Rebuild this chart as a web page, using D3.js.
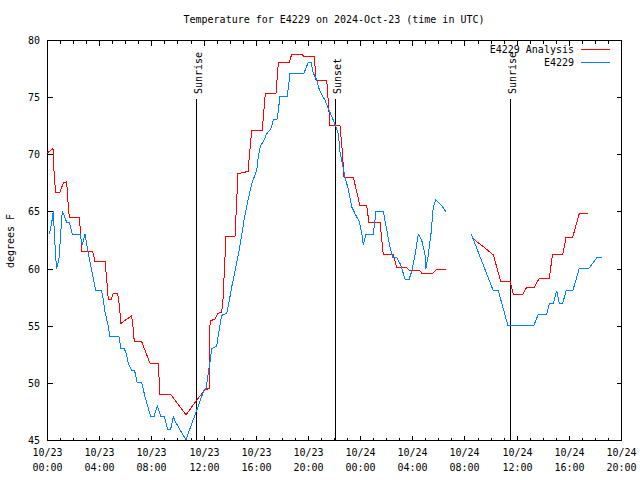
<!DOCTYPE html>
<html><head><meta charset="utf-8">
<script src="https://cdn.jsdelivr.net/npm/d3@7"></script>
<style>
body{margin:0;background:#fff;}
svg{display:block;}
text{font-family:"DejaVu Sans Mono","Liberation Mono",monospace;font-size:10px;fill:#000;}
</style></head><body>
<script>
// ---- data (hours since 2024-10-23 00:00 UTC, degrees F) ----
const analysisHours = [0.00,0.46,0.54,0.65,1.00,1.25,1.51,1.59,1.71,2.48,2.58,2.68,3.50,3.68,4.45,4.58,4.70,4.91,5.08,5.42,5.52,5.67,6.03,6.49,6.62,6.69,7.26,7.90,8.53,8.66,9.48,10.66,11.48,12.11,12.42,12.50,12.88,13.13,13.39,13.49,13.72,14.41,14.64,15.41,15.69,16.50,16.73,17.55,17.73,18.55,18.76,19.52,19.65,20.49,20.62,21.44,21.69,22.46,22.64,22.77,23.48,23.99,24.51,24.68,25.53,25.78,26.55,26.81,27.52,27.83,28.59,28.72,29.57,29.82,30.56,31.5,32.56,33.58,34.21,34.78,35.49,35.74,36.47,36.77,37.33,37.74,38.51,38.74,39.53,39.79,40.30,40.81,41.50];
const analysisTemps = [70.1,70.5,68.5,66.7,66.7,67.5,67.6,66.1,64.5,64.5,63.0,61.5,61.5,60.6,60.6,59.0,57.3,57.3,57.8,57.8,57.0,55.2,55.5,55.85,54.6,53.6,53.6,51.7,51.7,49.0,49.0,47.2,48.5,49.4,49.5,55.4,55.6,56.1,56.2,57.3,62.8,62.8,68.3,68.5,72.1,72.1,75.3,75.3,78.0,78.0,78.75,78.75,78.6,78.6,76.5,76.5,72.5,72.5,70.2,68.0,68.0,65.5,65.5,64.0,64.0,61.2,61.2,60.1,60.1,59.8,59.8,59.6,59.6,59.9,59.9,null,62.7,61.8,61.2,58.9,58.9,57.75,57.75,58.35,58.35,59.15,59.15,61.2,61.2,62.75,62.75,64.85,64.85];

const stationHours = [0.18,0.36,0.48,0.67,0.74,0.92,1.17,1.30,1.51,1.71,1.94,2.53,2.71,2.91,3.22,3.55,3.73,4.19,4.32,4.45,4.65,4.83,5.52,5.67,5.93,6.11,6.23,6.49,6.71,6.92,7.26,7.51,7.95,8.20,8.46,8.72,8.99,9.25,9.48,9.68,9.94,10.66,10.96,11.48,12.04,12.19,12.29,12.50,12.63,13.01,13.13,13.39,13.78,13.98,14.18,14.49,14.79,15.10,15.41,15.71,16.08,16.20,16.38,16.58,16.84,17.15,17.35,17.65,17.86,18.42,18.63,19.70,20.03,20.24,20.41,20.68,20.80,21.06,21.31,21.56,21.83,22.08,22.33,22.46,22.59,22.84,23.10,23.36,23.61,23.94,24.13,24.25,24.45,25.01,25.22,25.78,26.04,26.29,26.50,26.81,27.12,27.45,27.75,27.96,28.21,28.46,28.72,28.98,29.05,29.23,29.44,29.61,29.80,30.00,30.26,30.56,31.5,32.53,34.21,34.60,35.32,37.33,37.66,38.31,38.51,38.81,39.07,39.27,39.53,39.79,40.30,40.81,41.55,42.19,42.53];
const stationTemps = [63.0,64.0,65.0,60.9,60.0,60.9,65.0,64.7,64.05,64.05,63.0,63.0,62.05,63.0,61.0,59.15,58.05,58.05,57.25,56.2,55.2,54.05,54.05,53.0,53.0,52.4,51.7,51.1,51.1,50.0,50.0,48.8,47.05,47.05,47.95,47.05,47.05,45.95,45.95,47.0,46.4,45.0,46.0,47.6,49.4,49.5,50.25,51.9,53.0,53.2,54.2,55.9,56.1,57.25,58.5,60.2,62.0,64.2,66.0,67.5,68.6,69.8,70.8,71.1,71.8,72.2,73.0,73.1,75.05,75.05,77.1,77.1,78.05,78.05,77.1,76.5,75.9,75.2,74.75,74.0,73.3,72.6,71.8,70.2,69.5,68.05,66.9,65.4,64.8,64.1,63.1,62.05,63.0,63.0,65.0,65.0,63.4,61.9,61.0,61.0,60.3,59.05,59.05,59.75,61.2,63.0,62.5,61.2,60.0,61.2,63.1,65.4,66.05,65.8,65.5,65.0,null,63.0,58.05,58.05,55.05,55.05,56.0,56.0,56.95,56.95,58.05,56.95,56.95,58.05,58.05,60.05,60.05,61.0,61.0];

const sunEventHours = [11.44, 22.09, 35.52];
const sunEventNames = ["Sunrise", "Sunset", "Sunrise"];

const xTickHours = [0,4,8,12,16,20,24,28,32,36,40,44];
const xTickDates = ["10/23","10/23","10/23","10/23","10/23","10/23","10/24","10/24","10/24","10/24","10/24","10/24"];
const xTickTimes = ["00:00","04:00","08:00","12:00","16:00","20:00","00:00","04:00","08:00","12:00","16:00","20:00"];
const yTicks = [45,50,55,60,65,70,75,80];

const seriesNames = ["E4229 Analysis", "E4229"];
const seriesColors = ["#ff0000", "#0080ff"];
const titleText = "Temperature for E4229 on 2024-Oct-23 (time in UTC)";
const yLabel = "degrees F";

// ---- drawing ----
const W = 640, H = 480;
const L = 47, R = 621, T = 40, B = 440;
const svg = d3.select("body").append("svg").attr("width", W).attr("height", H);

const x = d3.scaleLinear().domain([0, 44]).range([L, R]);
const y = d3.scaleLinear().domain([45, 80]).range([B, T]);

const g = svg.append("g").attr("shape-rendering", "crispEdges");

// ticks: minor hourly, major every 4h, on bottom and top, inward
const hours = d3.range(0, 45);
hours.forEach(h => {
  const len = (h % 4 === 0) ? 5 : 3;
  const px = Math.round(x(h)) + 0.5;
  g.append("line").attr("x1", px).attr("x2", px).attr("y1", B + 0.5).attr("y2", B + 0.5 - len).attr("stroke", "#000");
  g.append("line").attr("x1", px).attr("x2", px).attr("y1", T + 0.5).attr("y2", T + 0.5 + len).attr("stroke", "#000");
});
yTicks.forEach(v => {
  const py = Math.round(y(v)) + 0.5;
  g.append("line").attr("x1", L + 0.5).attr("x2", L + 5.5).attr("y1", py).attr("y2", py).attr("stroke", "#000");
  g.append("line").attr("x1", R + 0.5).attr("x2", R - 4.5).attr("y1", py).attr("y2", py).attr("stroke", "#000");
  svg.append("text").attr("x", L - 7).attr("y", py + 3.5).attr("text-anchor", "end").text(v);
});
xTickHours.forEach((h, i) => {
  const px = Math.round(x(h)) + 0.5;
  svg.append("text").attr("x", px).attr("y", 456).attr("text-anchor", "middle").text(xTickDates[i]);
  svg.append("text").attr("x", px).attr("y", 471).attr("text-anchor", "middle").text(xTickTimes[i]);
});

// sunrise / sunset lines
sunEventHours.forEach((h, i) => {
  const px = Math.round(x(h)) + 0.5;
  g.append("line").attr("x1", px).attr("x2", px).attr("y1", 99).attr("y2", B).attr("stroke", "#000");
  svg.append("text").attr("transform", `translate(${px + 5},94) rotate(-90)`).attr("text-anchor", "start").text(sunEventNames[i]);
});

// series
const line = d3.line().defined(d => d[1] !== null).x(d => x(d[0])).y(d => y(d[1]));
const aData = analysisHours.map((h, i) => [h, analysisTemps[i]]);
const sData = stationHours.map((h, i) => [h, stationTemps[i]]);
svg.append("path").datum(aData).attr("d", line).attr("fill", "none").attr("stroke", seriesColors[0]).attr("stroke-width", 1).attr("shape-rendering", "crispEdges");
svg.append("path").datum(sData).attr("d", line).attr("fill", "none").attr("stroke", seriesColors[1]).attr("stroke-width", 1).attr("shape-rendering", "crispEdges");

// frame
g.append("rect").attr("x", L + 0.5).attr("y", T + 0.5).attr("width", R - L).attr("height", B - T).attr("fill", "none").attr("stroke", "#000");

// legend
seriesNames.forEach((n, i) => {
  const ly = 49.5 + i * 13;
  svg.append("text").attr("x", 574).attr("y", ly + 3.5).attr("text-anchor", "end").text(n);
  svg.append("line").attr("x1", 581).attr("x2", 610).attr("y1", ly).attr("y2", ly).attr("stroke", seriesColors[i]).attr("shape-rendering", "crispEdges");
});

// title and y label
svg.append("text").attr("x", (L + R) / 2).attr("y", 23).attr("text-anchor", "middle").text(titleText);
svg.append("text").attr("transform", `translate(14,241) rotate(-90)`).attr("text-anchor", "middle").text(yLabel);
</script>
</body></html>
